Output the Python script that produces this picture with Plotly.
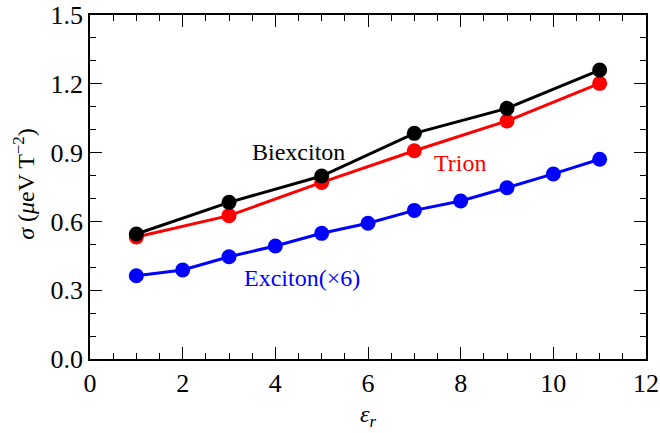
import plotly.graph_objects as go

x_bi = [1, 3, 5, 7, 9, 11]
y_bi = [0.545, 0.683, 0.798, 0.984, 1.093, 1.260]
x_tr = [1, 3, 5, 7, 9, 11]
y_tr = [0.532, 0.625, 0.770, 0.908, 1.038, 1.202]
x_ex = [1, 2, 3, 4, 5, 6, 7, 8, 9, 10, 11]
y_ex = [0.363, 0.388, 0.446, 0.493, 0.548, 0.592, 0.648, 0.689, 0.747, 0.807, 0.871]

labels = ["Biexciton", "Trion", "Exciton(×6)"]
label_x = [4.49, 7.99, 4.58]
label_y = [0.903, 0.853, 0.355]
colors = ["black", "red", "blue"]

FONT = "Liberation Serif"

fig = go.Figure()
for xs, ys, c in [(x_ex, y_ex, "blue"), (x_tr, y_tr, "red"), (x_bi, y_bi, "black")]:
    fig.add_trace(go.Scatter(x=xs, y=ys, mode="lines+markers",
                             line=dict(color=c, width=3),
                             marker=dict(color=c, size=15),
                             showlegend=False, cliponaxis=False))

for t, lx, ly, c in zip(labels, label_x, label_y, colors):
    fig.add_annotation(x=lx, y=ly, text=t, showarrow=False,
                       font=dict(family=FONT, size=24, color=c))

# axis titles
fig.add_annotation(xref="paper", yref="paper", x=-0.12, y=0.51,
                   text="<i>σ</i> (<i>μ</i>eV T<sup>−2</sup>)", textangle=-90,
                   showarrow=False, xanchor="center", yanchor="middle",
                   font=dict(family=FONT, size=24, color="black"))
fig.add_annotation(xref="paper", yref="paper", x=0.5, y=-0.165,
                   text="<i>ε</i><sub><i>r</i></sub>",
                   showarrow=False, xanchor="center", yanchor="middle",
                   font=dict(family=FONT, size=24, color="black"))

axis_common = dict(showgrid=False, zeroline=False, showline=True, automargin=False,
                   linecolor="black", linewidth=1.5, mirror="ticks",
                   ticks="inside", ticklen=12, tickwidth=1.2, tickcolor="black",
                   tickfont=dict(family=FONT, size=26, color="black"))

fig.update_xaxes(range=[0, 12], dtick=2, tick0=0,
                 minor=dict(dtick=0.5, ticklen=6, ticks="inside", tickcolor="black", tickwidth=1.2),
                 **axis_common)
fig.update_yaxes(range=[0, 1.5], dtick=0.3, tick0=0, tickformat=".1f",
                 minor=dict(dtick=0.1, ticklen=6, ticks="inside", tickcolor="black", tickwidth=1.2),
                 **axis_common)

fig.update_layout(width=660, height=433, margin=dict(l=90, r=14, t=15, b=74),
                  plot_bgcolor="white", paper_bgcolor="white",
                  font=dict(family=FONT, color="black"))

fig.write_html("out.html")
